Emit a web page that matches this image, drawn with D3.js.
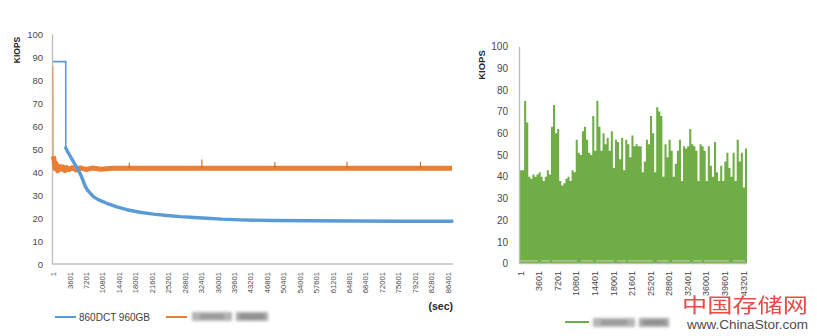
<!DOCTYPE html>
<html>
<head>
<meta charset="utf-8">
<script src="https://cdn.jsdelivr.net/npm/d3@7"></script>
<style>
  html, body { margin: 0; padding: 0; background: #fff; }
  svg { display: block; font-family: "Liberation Sans", Arial, sans-serif; }
</style>
</head>
<body>
<svg id="chart" width="817" height="336"></svg>
<script>
// ---- data -------------------------------------------------------------
// 860DCT 960GB: KIOPS over time, [seconds, KIOPS]
const blueSeries = [
  [1, 88], [2790, 88], [2800, 50.5], [3100, 49.2], [3600, 47.5], [4460, 44.5],
  [5200, 42], [5930, 39.4], [6500, 36.8], [7020, 34], [7600, 32], [8850, 29.3],
  [10000, 27.9], [11790, 26.4], [14000, 24.8], [16180, 23.6], [19000, 22.5],
  [22020, 21.7], [25000, 21.1], [27880, 20.6], [31000, 20.2], [33730, 19.9],
  [37000, 19.5], [41050, 19.2], [48000, 18.9], [56000, 18.8], [66000, 18.7],
  [76000, 18.6], [87400, 18.6]
];
// second drive on the left chart, [seconds, KIOPS]
const orangeSeries = [
  [1, 86], [60, 46.8], [250, 45], [440, 41.5], [620, 43.8], [800, 42.8],
  [1000, 40.5], [1200, 41.8], [1500, 42.3], [1800, 41.2], [2200, 42.2],
  [2600, 40.6], [3000, 41.9], [3500, 41], [4200, 41.9], [5000, 40.9],
  [6000, 41.8], [7200, 41.1], [8600, 41.7], [10500, 41.2], [13000, 41.6],
  [87400, 41.6]
];
// short upward bursts on the second drive, [seconds, peak KIOPS]
const orangeSpikes = [[16700, 44], [32600, 45.4], [48600, 44.3], [64400, 44.5], [80500, 44.5]];
const orangeLevel = 41.6;

// right chart: peak KIOPS per 400 s interval
const greenBinSec = 400;
const greenEndSec = 44000;
const greenPeaks = [
  43, 43, 75, 65, 40, 39, 41, 40, 41, 42,
  40, 38, 40, 43, 41, 63, 73, 60, 62, 38,
  36, 37, 39, 40, 38, 43, 42, 57, 51, 50,
  61, 63, 57, 51, 50, 68, 52, 75, 63, 52,
  60, 55, 58, 52, 61, 44, 57, 56, 48, 58,
  43, 57, 55, 49, 59, 54, 55, 54, 54, 42,
  47, 57, 55, 68, 60, 42, 72, 70, 68, 40,
  55, 49, 57, 52, 40, 46, 52, 57, 38, 54,
  53, 54, 62, 55, 54, 52, 38, 55, 54, 52,
  38, 54, 45, 40, 56, 42, 38, 45, 38, 47,
  51, 44, 40, 51, 38, 57, 47, 51, 35, 53
];
// lowest sample level, where the trace barely leaves the floor
const greenFloor = 1.2;

const yTicks = [0, 10, 20, 30, 40, 50, 60, 70, 80, 90, 100];
const leftXTicks = [1, 3601, 7201, 10801, 14401, 18001, 21601, 25201, 28801, 32401,
  36001, 39601, 43201, 46801, 50401, 54001, 57601, 61201, 64801, 68401,
  72001, 75601, 79201, 82801, 86401];
const rightXTicks = [1, 3601, 7201, 10801, 14401, 18001, 21601, 25201, 28801, 32401,
  36001, 39601, 43201];

const seriesNames = { blue: "860DCT 960GB" };
const colors = { blue: "#5b9bd5", orange: "#ed7d31", green: "#70ad47" };
const axisColor = "#bfbfbf";
const tickColor = "#4a4a4a";

// ---- setup ------------------------------------------------------------
const svg = d3.select("#chart");
const defs = svg.append("defs");
defs.append("filter").attr("id", "soft").attr("x", "-20%").attr("y", "-50%")
  .attr("width", "140%").attr("height", "200%")
  .append("feGaussianBlur").attr("stdDeviation", 1.6);

function styleAxis(g, fontSize) {
  g.select(".domain").attr("stroke", axisColor).attr("stroke-width", 1.4);
  g.selectAll(".tick line").remove();
  g.selectAll(".tick text").attr("fill", tickColor).style("font-size", fontSize + "px");
}

function rotateXLabels(g, pad) {
  g.selectAll(".tick text")
    .attr("transform", "rotate(-90)")
    .attr("text-anchor", "end")
    .attr("x", -pad).attr("y", 0).attr("dy", "0.35em");
}

// blurred placeholder for a hidden legend name
function hiddenName(x, y, w1, w2) {
  const g = svg.append("g").attr("filter", "url(#soft)");
  g.append("rect").attr("x", x).attr("y", y).attr("width", w1).attr("height", 9).attr("fill", "#b4b4b4");
  g.append("rect").attr("x", x + 8).attr("y", y + 2).attr("width", w1 - 16).attr("height", 5).attr("fill", "#9a9a9a");
  g.append("rect").attr("x", x + w1 + 4).attr("y", y).attr("width", w2).attr("height", 9).attr("fill", "#a8a8a8");
  g.append("rect").attr("x", x + w1 + 8).attr("y", y + 2).attr("width", w2 - 8).attr("height", 5).attr("fill", "#8e8e8e");
}

// ---- left chart -------------------------------------------------------
const xL = d3.scaleLinear().domain([1, 87400]).range([53, 452]);
const yL = d3.scaleLinear().domain([0, 100]).range([264, 34]);

const gyL = svg.append("g").attr("transform", "translate(52,0)")
  .call(d3.axisLeft(yL).tickValues(yTicks).tickSize(0).tickSizeOuter(0).tickPadding(9));
styleAxis(gyL, 9.5);

const gxL = svg.append("g").attr("transform", "translate(0,264)")
  .call(d3.axisBottom(xL).tickValues(leftXTicks).tickFormat(d3.format("d")).tickSize(0).tickSizeOuter(0));
gxL.select(".domain").attr("d", "M52,0H453");
styleAxis(gxL, 7.6);
rotateXLabels(gxL, 8);

const lineL = d3.line().x(d => xL(d[0])).y(d => yL(d[1]));

// thin pass covers the whole run, thicker pass the noisy steady-state part
svg.append("path").datum(orangeSeries).attr("d", lineL)
  .attr("fill", "none").attr("stroke", colors.orange).attr("stroke-width", 1.2).attr("opacity", 0.65);
svg.append("path").datum(orangeSeries.filter(d => d[0] >= 60)).attr("d", lineL)
  .attr("fill", "none").attr("stroke", colors.orange).attr("stroke-width", 5)
  .attr("stroke-linejoin", "round");
svg.append("g").selectAll("line").data(orangeSpikes).join("line")
  .attr("x1", d => xL(d[0])).attr("x2", d => xL(d[0]))
  .attr("y1", yL(orangeLevel)).attr("y2", d => yL(d[1]))
  .attr("stroke", "#c8692a").attr("stroke-width", 1.1);

svg.append("path").datum(blueSeries).attr("d", lineL)
  .attr("fill", "none").attr("stroke", colors.blue).attr("stroke-width", 1.6);
svg.append("path").datum(blueSeries.filter(d => d[0] >= 2800)).attr("d", lineL)
  .attr("fill", "none").attr("stroke", colors.blue).attr("stroke-width", 3.4)
  .attr("stroke-linejoin", "round").attr("stroke-linecap", "round");

svg.append("text").attr("transform", "translate(20,50) rotate(-90)")
  .attr("text-anchor", "middle").attr("font-weight", "bold")
  .style("font-size", "8.5px").attr("fill", "#262626").text("KIOPS");

svg.append("text").attr("x", 453).attr("y", 310).attr("text-anchor", "end")
  .attr("font-weight", "bold").style("font-size", "10.5px").attr("fill", "#262626").text("(sec)");

// legend
svg.append("line").attr("x1", 55).attr("x2", 76).attr("y1", 317).attr("y2", 317)
  .attr("stroke", colors.blue).attr("stroke-width", 2);
svg.append("text").attr("x", 79).attr("y", 320.5).style("font-size", "10px")
  .attr("fill", "#404040").text(seriesNames.blue);
svg.append("line").attr("x1", 166).attr("x2", 187).attr("y1", 317).attr("y2", 317)
  .attr("stroke", colors.orange).attr("stroke-width", 2);
hiddenName(192, 312, 40, 32);

// ---- right chart ------------------------------------------------------
const xR = d3.scaleLinear().domain([1, greenEndSec]).range([520, 747]);
const yR = d3.scaleLinear().domain([0, 100]).range([263.5, 46.5]);

const greenSteps = greenPeaks.map((v, i) => [i * greenBinSec + 1, v]);
greenSteps.push([greenEndSec, greenPeaks[greenPeaks.length - 1]]);

svg.append("path").datum(greenSteps)
  .attr("d", d3.area().curve(d3.curveStepAfter)
    .x(d => xR(d[0])).y0(yR(0)).y1(d => yR(d[1])))
  .attr("fill", colors.green);

svg.append("line")
  .attr("x1", xR(1)).attr("x2", xR(greenEndSec))
  .attr("y1", yR(greenFloor)).attr("y2", yR(greenFloor))
  .attr("stroke", "#ffffff").attr("stroke-width", 0.9).attr("opacity", 0.6)
  .attr("stroke-dasharray", "18,3,9,2,25,4,12,3");

const gyR = svg.append("g").attr("transform", "translate(519,0)")
  .call(d3.axisLeft(yR).tickValues(yTicks).tickSize(0).tickSizeOuter(0).tickPadding(11));
styleAxis(gyR, 10);

const gxR = svg.append("g").attr("transform", "translate(0,263.5)")
  .call(d3.axisBottom(xR).tickValues(rightXTicks).tickFormat(d3.format("d")).tickSize(0).tickSizeOuter(0));
gxR.select(".domain").attr("d", "M519,0H747");
styleAxis(gxR, 9);
rotateXLabels(gxR, 7.5);

svg.append("text").attr("transform", "translate(485,65) rotate(-90)")
  .attr("text-anchor", "middle").attr("font-weight", "bold")
  .style("font-size", "9.5px").attr("fill", "#262626").text("KIOPS");

svg.append("line").attr("x1", 565).attr("x2", 589).attr("y1", 322).attr("y2", 322)
  .attr("stroke", colors.green).attr("stroke-width", 2);
hiddenName(593, 318, 42, 30);

// site mark
svg.append("text").attr("x", 682).attr("y", 312.5)
  .attr("textLength", 126).attr("lengthAdjust", "spacingAndGlyphs")
  .style("font-family", "'Noto Sans CJK SC', sans-serif").style("font-size", "20px")
  .attr("fill", "#e5332f").attr("opacity", 0.88).text("中国存储网");
svg.append("text").attr("x", 687).attr("y", 329)
  .attr("textLength", 121).attr("lengthAdjust", "spacingAndGlyphs")
  .style("font-size", "12px").attr("fill", "#4d4d4d").text("www.ChinaStor.com");
</script>
</body>
</html>
